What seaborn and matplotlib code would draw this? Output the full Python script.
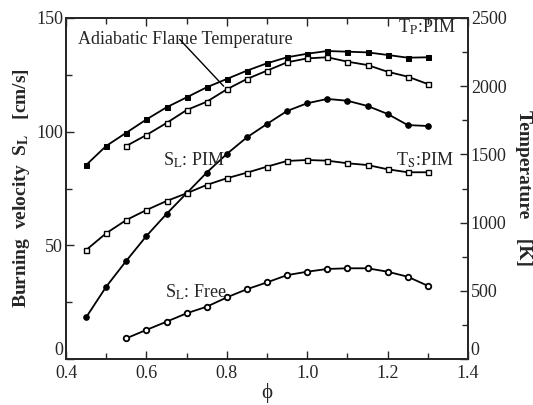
import numpy as np
import pandas as pd
import matplotlib
matplotlib.use("Agg")
import matplotlib.pyplot as plt
from matplotlib.ticker import MultipleLocator
import seaborn as sns

sns.set_style("ticks")
plt.rcParams['font.family'] = ['Liberation Serif', 'DejaVu Serif']
plt.rcParams['mathtext.fontset'] = 'stix'

# equivalence ratio
phi_full = [0.45, 0.50, 0.55, 0.60, 0.65, 0.70, 0.75, 0.80, 0.85, 0.90,
            0.95, 1.00, 1.05, 1.10, 1.15, 1.20, 1.25, 1.30]
phi_short = [0.55, 0.60, 0.65, 0.70, 0.75, 0.80, 0.85, 0.90,
             0.95, 1.00, 1.05, 1.10, 1.15, 1.20, 1.25, 1.30]

# burning velocity [cm/s]
sl_pim = [18.3, 31.8, 43.2, 54.1, 63.8, 72.9, 82.0, 90.2, 97.5, 103.4,
          109.1, 112.5, 114.4, 113.6, 111.3, 107.8, 102.9, 102.5]
sl_free = [9.1, 12.8, 16.4, 20.1, 23.0, 27.1, 30.7, 33.7,
           36.9, 38.4, 39.6, 39.9, 39.9, 38.4, 36.2, 32.2]

# temperature [K]
tp_pim = [1422, 1562, 1659, 1756, 1845, 1918, 1992, 2053, 2114, 2168,
          2212, 2238, 2258, 2253, 2248, 2229, 2209, 2212]
ts_pim = [799, 922, 1019, 1092, 1158, 1215, 1276, 1325, 1366, 1410,
          1452, 1459, 1454, 1435, 1422, 1391, 1369, 1369]
t_adiabatic = [1562, 1642, 1730, 1825, 1886, 1977, 2053, 2114,
               2175, 2204, 2212, 2180, 2155, 2106, 2070, 2016]

fig, ax = plt.subplots(figsize=(5.33, 4.05), dpi=100)
fig.subplots_adjust(left=66/533, right=468/533, top=1-18/405, bottom=1-359/405)
ax2 = ax.twinx()

lw = 1.3
sns.lineplot(x=phi_full, y=sl_pim, ax=ax, color='black', lw=lw,
             marker='o', ms=4, mec='black', mfc='black')
sns.lineplot(x=phi_short, y=sl_free, ax=ax, color='black', lw=lw,
             marker='o', ms=4, mec='black', mfc='white', mew=1.3)
sns.lineplot(x=phi_full, y=tp_pim, ax=ax2, color='black', lw=lw,
             marker='s', ms=3.6, mec='black', mfc='black')
sns.lineplot(x=phi_full, y=ts_pim, ax=ax2, color='black', lw=lw,
             marker='s', ms=3.6, mec='black', mfc='white', mew=1.0)
sns.lineplot(x=phi_short, y=t_adiabatic, ax=ax2, color='black', lw=lw,
             marker='s', ms=3.6, mec='black', mfc='white', mew=1.0)

ax.set_xlim(0.4, 1.4)
ax.set_ylim(0, 150)
ax2.set_ylim(0, 2500)

ax.xaxis.set_major_locator(MultipleLocator(0.2))
ax.xaxis.set_minor_locator(MultipleLocator(0.1))
ax.set_yticks([0, 50, 100, 150])
ax.yaxis.set_minor_locator(MultipleLocator(25))
ax2.set_yticks([0, 500, 1000, 1500, 2000, 2500])
ax2.yaxis.set_minor_locator(MultipleLocator(250))
ax.set_xticks([0.4, 0.6, 0.8, 1.0, 1.2, 1.4])
ax.set_xticklabels(['0.4', '0.6', '0.8', '1.0', '1.2', '1.4'])

ax.tick_params(axis='x', which='both', direction='in', top=True, labelsize=13, pad=4)
ax.tick_params(axis='y', which='both', direction='in', labelsize=13, pad=2)
ax.tick_params(which='major', length=6, width=1)
ax.tick_params(which='minor', length=4, width=1)
ax2.tick_params(axis='y', which='both', direction='in', labelsize=13, pad=2)
ax2.tick_params(which='major', length=6, width=1)
ax2.tick_params(which='minor', length=4, width=1)

# the "0" labels sit just above the bottom spine, as in the original
ax.yaxis.get_major_ticks()[0].label1.set_verticalalignment('bottom')
ax2.yaxis.get_major_ticks()[0].label2.set_verticalalignment('bottom')

for a in (ax, ax2):
    for s in a.spines.values():
        s.set_linewidth(1.3)
        s.set_visible(True)

ax.set_xlabel('ϕ', fontsize=15, labelpad=1)
ax.set_ylabel(r'Burning  velocity  S$_\mathbf{L}$   [cm/s]', fontsize=14,
              fontweight='bold', labelpad=3)
ax2.set_ylabel('Temperature    [K]', fontsize=14, fontweight='bold',
               rotation=-90, labelpad=18)

fs = 13
ax.text(0.43, 140.5, 'Adiabatic Flame Temperature', fontsize=fs, ha='left', va='center')
ax.annotate('', xy=(0.797, 119.1), xytext=(0.678, 141.5),
            arrowprops=dict(arrowstyle='-', color='black', lw=1))
ax.text(1.368, 146.0, r'T$_\mathrm{P}$:PIM', fontsize=fs, ha='right', va='center')
ax.text(0.641, 87.5, r'S$_\mathrm{L}$: PIM', fontsize=fs, ha='left', va='center')
ax.text(1.363, 87.5, r'T$_\mathrm{S}$:PIM', fontsize=fs, ha='right', va='center')
ax.text(0.646, 29.5, r'S$_\mathrm{L}$: Free', fontsize=fs, ha='left', va='center')

fig.savefig('out.png', dpi=100)
